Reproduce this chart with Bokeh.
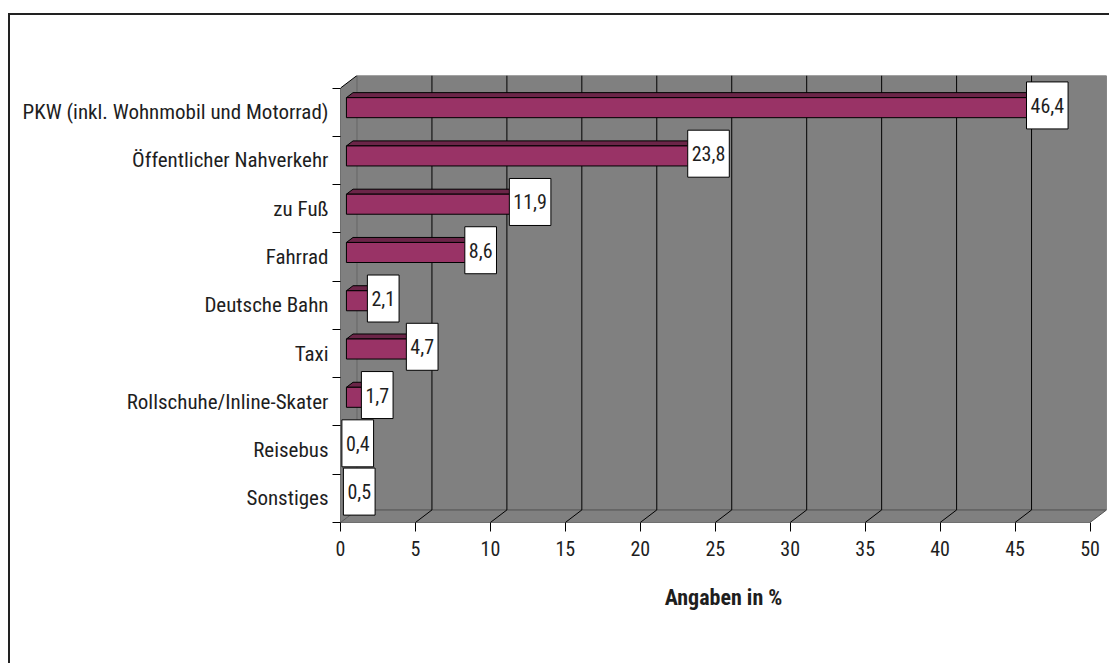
from bokeh.plotting import figure
from bokeh.models import Range1d, FixedTicker, ColumnDataSource
from bokeh.core.properties import value
from bokeh.embed import file_html
from bokeh.resources import INLINE

# Verkehrsmittel und Anteile (in %)
categories = [
    "PKW (inkl. Wohnmobil und Motorrad)",
    "Öffentlicher Nahverkehr",
    "zu Fuß",
    "Fahrrad",
    "Deutsche Bahn",
    "Taxi",
    "Rollschuhe/Inline-Skater",
    "Reisebus",
    "Sonstiges",
]
values = [46.4, 23.8, 11.9, 8.6, 2.1, 4.7, 1.7, 0.4, 0.5]
x_ticks = [0, 5, 10, 15, 20, 25, 30, 35, 40, 45, 50]
x_max = 50
axis_title = "Angaben in %"

FONT = "Roboto Condensed"
TEXT = "#1e1e1e"
WALL = "#808080"
BAR_FRONT = "#993366"
BAR_TOP = "#6b2548"
BAR_END = "#4d1a33"

# pseudo-3D depth, expressed in data units of each axis
DX = 1.1
DY = 0.26
n = len(categories)

p = figure(
    frame_width=766, frame_height=447,
    min_border_left=330, min_border_top=60, min_border_right=3, min_border_bottom=141,
    x_range=Range1d(0, x_max + DX), y_range=Range1d(0, n + DY),
    output_backend="svg", toolbar_location=None,
)
p.styles = {"margin-left": "8px", "margin-top": "13px",
            "border-left": "2px solid #222", "border-top": "2px solid #222"}
p.outline_line_color = None
p.xgrid.visible = False
p.ygrid.visible = False
p.background_fill_color = "white"
p.border_fill_color = "white"

# walls: floor, left side, back
p.patch([0, x_max, x_max + DX, DX], [0, 0, DY, DY], fill_color=WALL, line_color=None)
p.patch([0, DX, DX, 0], [0, DY, n + DY, n], fill_color=WALL, line_color=None)
p.patch([DX, x_max + DX, x_max + DX, DX], [DY, DY, n + DY, n + DY],
        fill_color=WALL, line_color="#666666", line_width=1)
p.segment([DX], [DY], [x_max + DX], [DY], line_color="#5e5e5e", line_width=1)

inner = [t for t in x_ticks if 0 < t < x_max]
edge = [x_ticks[0], x_ticks[-1]]
# gridlines on the back wall and their traces across the floor
p.segment([t + DX for t in inner], [DY] * len(inner), [t + DX for t in inner], [n + DY] * len(inner),
          line_color="black", line_width=1)
p.segment(inner, [0] * len(inner), [t + DX for t in inner], [DY] * len(inner),
          line_color="black", line_width=1)
p.segment(edge, [0, 0], [t + DX for t in edge], [DY, DY], line_color="#555555", line_width=1)
p.segment([x_max + DX], [DY], [x_max + DX], [n + DY], line_color="#6a6a6a", line_width=1)

# front edges of the box
p.segment([0, 0, 0], [0, 0, n], [x_max, 0, DX], [0, n, n + DY], line_color="black", line_width=1)

# bars
d1, d2, h = 0.36, 0.76, 0.415
centers = [n - 1 - i + 0.5 for i in range(n)]
front_x, front_y, top_x, top_y, end_x, end_y = [], [], [], [], [], []
for v, c in zip(values, centers):
    x0, x1 = d1 * DX, v + d1 * DX
    yb, yt = c - h / 2 + d1 * DY, c + h / 2 + d1 * DY
    sx, sy = (d2 - d1) * DX, (d2 - d1) * DY
    front_x.append([x0, x1, x1, x0])
    front_y.append([yb, yb, yt, yt])
    top_x.append([x0, x1, x1 + sx, x0 + sx])
    top_y.append([yt, yt, yt + sy, yt + sy])
    end_x.append([x1, x1 + sx, x1 + sx, x1])
    end_y.append([yb, yb + sy, yt + sy, yt])
p.patches(top_x, top_y, fill_color=BAR_TOP, line_color="black", line_width=1)
p.patches(end_x, end_y, fill_color=BAR_END, line_color="black", line_width=1)
p.patches(front_x, front_y, fill_color=BAR_FRONT, line_color="black", line_width=1)

# value labels in white boxes
labels = ColumnDataSource(dict(
    x=[v + 0.75 for v in values],
    y=[c + 0.14 for c in centers],
    text=[f"{v:.1f}".replace(".", ",") for v in values],
))
p.text(
    x="x", y="y", text="text", source=labels,
    text_align="center", text_baseline="middle",
    text_font=value(FONT), text_font_size="20px", text_color=TEXT,
    background_fill_color="white", border_line_color="black", border_line_width=1,
    padding=dict(left=4, right=4, top=16, bottom=16),
)

# axes
xa = p.xaxis[0]
xa.ticker = FixedTicker(ticks=x_ticks)
xa.axis_line_color = None
xa.major_tick_out = 9
xa.major_tick_in = 0
xa.major_tick_line_color = "black"
xa.minor_tick_line_color = None
xa.major_label_standoff = 9
xa.major_label_text_font = FONT
xa.major_label_text_font_size = "20px"
xa.major_label_text_color = TEXT
xa.axis_label = axis_title
xa.axis_label_standoff = 26
xa.axis_label_text_font = FONT
xa.axis_label_text_font_size = "22px"
xa.axis_label_text_font_style = "bold"
xa.axis_label_text_color = TEXT

ya = p.yaxis[0]
ya.ticker = FixedTicker(ticks=centers, minor_ticks=list(range(n + 1)))
ya.major_label_overrides = {c: name for c, name in zip(centers, categories)}
ya.axis_line_color = None
ya.major_tick_out = 0
ya.major_tick_in = 0
ya.minor_tick_out = 8
ya.minor_tick_in = 0
ya.minor_tick_line_color = "black"
ya.major_label_standoff = 4
ya.major_label_text_font = FONT
ya.major_label_text_font_size = "21px"
ya.major_label_text_color = TEXT

open("out.html", "w").write(file_html(p, INLINE))
